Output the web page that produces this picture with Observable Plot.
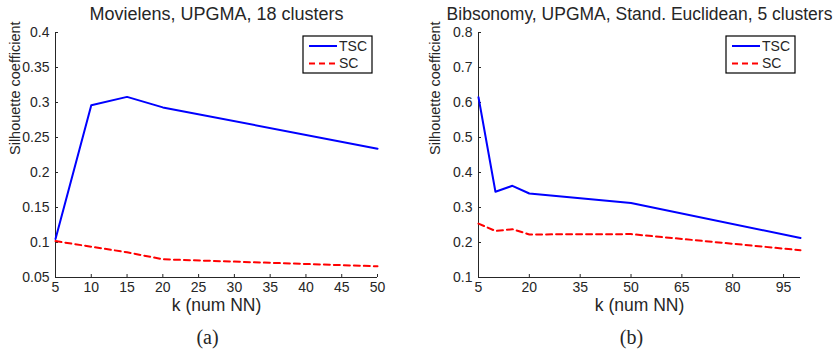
<!DOCTYPE html>
<html>
<head>
<meta charset="utf-8">
<script src="https://cdn.jsdelivr.net/npm/d3@7"></script>
<script src="https://cdn.jsdelivr.net/npm/@observablehq/plot@0.6"></script>
<style>
  html, body { margin: 0; padding: 0; background: #fff; }
  #wrap { position: relative; width: 840px; height: 353px; overflow: hidden; background: #fff; }
  #wrap > svg { position: absolute; top: 0; }
</style>
</head>
<body>
<div id="wrap"></div>
<script>
// ---- data ----
const seriesNames = ["TSC", "SC"];

// Panel (a): Movielens
const titleA = "Movielens, UPGMA, 18 clusters";
const kMovie = [5, 10, 15, 20, 50];
const tscMovie = [0.105, 0.296, 0.308, 0.293, 0.234];
const scMovie = [0.102, 0.094, 0.086, 0.076, 0.066];
const xTicksA = [5, 10, 15, 20, 25, 30, 35, 40, 45, 50];
const yTicksA = [0.05, 0.1, 0.15, 0.2, 0.25, 0.3, 0.35, 0.4];

// Panel (b): Bibsonomy
const titleB = "Bibsonomy, UPGMA, Stand. Euclidean, 5 clusters";
const kBib = [5, 10, 15, 20, 50, 100];
const tscBib = [0.615, 0.345, 0.362, 0.340, 0.313, 0.213];
const scBib = [0.254, 0.233, 0.238, 0.223, 0.224, 0.178];
const xTicksB = [5, 20, 35, 50, 65, 80, 95];
const yTicksB = [0.1, 0.2, 0.3, 0.4, 0.5, 0.6, 0.7, 0.8];

const xLabel = "k (num NN)";
const yLabel = "Silhouette coefficient";

const TXT = "#262626";
const FONT = "'Liberation Sans', Arial, Helvetica, sans-serif";

function legendMark() {
  return (index, scales, values, dims) => {
    const g = d3.create("svg:g");
    const bw = 69, bh = 37;
    const x0 = dims.width - dims.marginRight - 5 - bw;
    const y0 = dims.marginTop + 4;
    g.append("rect").attr("x", x0).attr("y", y0).attr("width", bw).attr("height", bh)
      .attr("fill", "white").attr("stroke", "#000").attr("stroke-width", 1.2);
    const styles = [{stroke: "#0000ff", dash: null}, {stroke: "#ff0000", dash: "6,4"}];
    seriesNames.forEach((name, i) => {
      const yy = y0 + 10 + i * 17.5;
      g.append("line").attr("x1", x0 + 6).attr("x2", x0 + 34).attr("y1", yy).attr("y2", yy)
        .attr("stroke", styles[i].stroke).attr("stroke-width", 2)
        .attr("stroke-dasharray", styles[i].dash);
      g.append("text").attr("x", x0 + 36).attr("y", yy).attr("dy", "0.35em")
        .attr("text-anchor", "start")
        .attr("font-size", 14).attr("fill", TXT).text(name);
    });
    return g.node();
  };
}

function panel({title, titleSize, caption, k, tsc, sc, xDomain, yDomain, xTicks, yTicks, marginLeft, marginRight, captionDx}) {
  const marginTop = 32, marginBottom = 76, width = 420, height = 353;
  const innerH = height - marginTop - marginBottom;
  const innerW = width - marginLeft - marginRight;
  const tscData = k.map((x, i) => ({k: x, v: tsc[i]}));
  const scData = k.map((x, i) => ({k: x, v: sc[i]}));
  return Plot.plot({
    width, height, marginTop, marginBottom, marginLeft, marginRight,
    style: {fontFamily: FONT, fontSize: "14px", color: TXT, background: "white", overflow: "visible"},
    x: {domain: xDomain},
    y: {domain: yDomain},
    marks: [
      Plot.axisX({ticks: xTicks, tickSize: 0, tickPadding: 5, label: null, fontSize: 14, tickFormat: d3.format("d"), fill: TXT}),
      Plot.axisY({ticks: yTicks, tickSize: 0, tickPadding: 6, label: null, fontSize: 14, tickFormat: d3.format("~g"), fill: TXT}),
      Plot.tickX(xTicks, {x: d => d, insetTop: innerH - 3, stroke: TXT}),
      Plot.tickY(yTicks, {y: d => d, insetRight: innerW - 3, stroke: TXT}),
      Plot.ruleX([xDomain[0]], {stroke: TXT}),
      Plot.ruleY([yDomain[0]], {stroke: TXT}),
      Plot.line(scData, {x: "k", y: "v", stroke: "#ff0000", strokeWidth: 2, strokeDasharray: "6,4"}),
      Plot.line(tscData, {x: "k", y: "v", stroke: "#0000ff", strokeWidth: 2}),
      Plot.text([title], {text: d => d, frameAnchor: "top", lineAnchor: "bottom", dy: -13, fontSize: titleSize, fill: TXT}),
      Plot.text([xLabel], {text: d => d, frameAnchor: "bottom", lineAnchor: "bottom", dy: 33, fontSize: 17.5, fill: TXT}),
      Plot.text([caption], {text: d => d, frameAnchor: "bottom", lineAnchor: "bottom", dy: 66, dx: captionDx, fontSize: 20, fontFamily: "'Liberation Serif', 'DejaVu Serif', serif", fill: TXT}),
      Plot.text([yLabel], {text: d => d, frameAnchor: "left", rotate: -90, dx: -(marginLeft - 15), lineAnchor: "middle", fontSize: 14.5, fill: TXT}),
      legendMark()
    ]
  });
}

const wrap = document.getElementById("wrap");
const a = panel({title: titleA, titleSize: 18, caption: "(a)", k: kMovie, tsc: tscMovie, sc: scMovie,
  xDomain: [5, 50], yDomain: [0.05, 0.4], xTicks: xTicksA, yTicks: yTicksA,
  marginLeft: 55, marginRight: 43, captionDx: -9});
a.style.left = "0px";
wrap.appendChild(a);
const b = panel({title: titleB, titleSize: 17.5, caption: "(b)", k: kBib, tsc: tscBib, sc: scBib,
  xDomain: [5, 100], yDomain: [0.1, 0.8], xTicks: xTicksB, yTicks: yTicksB,
  marginLeft: 58, marginRight: 40, captionDx: -8});
b.style.left = "420px";
wrap.appendChild(b);
</script>
</body>
</html>
